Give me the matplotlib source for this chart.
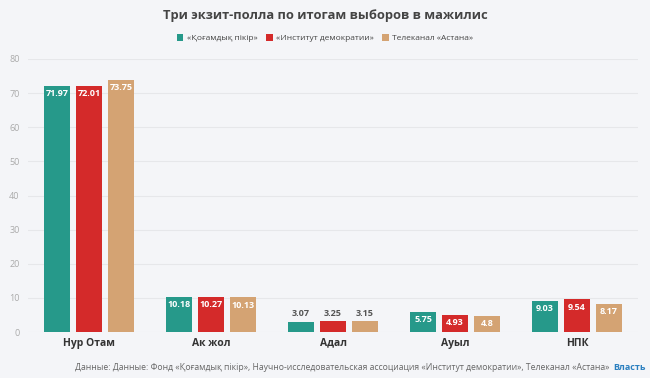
import numpy as np
import matplotlib.pyplot as plt
from matplotlib.patches import Patch

plt.rcParams['font.family'] = ['Open Sans', 'DejaVu Sans']

categories = ['Нур Отам', 'Ак жол', 'Адал', 'Ауыл', 'НПК']
series_names = ['«Қоғамдық пікір»', '«Институт демократии»', 'Телеканал «Астана»']
kogam = [71.97, 10.18, 3.07, 5.75, 9.03]
institut = [72.01, 10.27, 3.25, 4.93, 9.54]
astana = [73.75, 10.13, 3.15, 4.8, 8.17]
colors = ['#26998a', '#d42a2a', '#d4a373']

bg = '#f4f5f8'
fig = plt.figure(figsize=(6.5, 3.78), dpi=100, facecolor=bg)
ax = fig.add_axes([28 / 650, 1 - 332 / 378, 610 / 650, 273 / 378], facecolor=bg)

x = np.arange(len(categories))
w = 0.22
off = 0.262
for i, (vals, col) in enumerate(zip([kogam, institut, astana], colors)):
    pos = x + (i - 1) * off
    ax.bar(pos, vals, width=w, color=col, zorder=3)
    for p, v in zip(pos, vals):
        if v > 4:
            ax.text(p, v - 0.9, f'{v:g}', ha='center', va='top', color='white',
                    fontsize=6.5, fontweight='bold', zorder=4)
        else:
            ax.text(p, v + 0.9, f'{v:g}', ha='center', va='bottom', color='#555555',
                    fontsize=6.5, fontweight='bold', zorder=4)

ax.set_xlim(-0.5, len(categories) - 0.5)
ax.set_ylim(0, 80)
ax.set_yticks(np.arange(0, 81, 10))
ax.yaxis.grid(True, color='#e6e7ea', linewidth=0.8, zorder=0)
ax.set_xticks(x)
ax.set_xticklabels(categories, fontsize=7.5, fontweight='bold', color='#333333')
ax.tick_params(axis='y', labelsize=6.5, labelcolor='#aaaaaa', length=0, pad=6)
ax.tick_params(axis='x', length=0, pad=4)
for s in ax.spines.values():
    s.set_visible(False)

fig.text(0.5, 1 - 15 / 378, 'Три экзит-полла по итогам выборов в мажилис',
         ha='center', va='center', fontsize=9.3, fontweight='bold', color='#444444')

handles = [Patch(facecolor=c, edgecolor='none') for c in colors]
fig.legend(handles, series_names, loc='center', bbox_to_anchor=(0.5, 1 - 38 / 378),
           ncol=3, frameon=False, fontsize=6.0, handlelength=0.8, handleheight=0.9,
           handletextpad=0.4, columnspacing=1.0, labelcolor='#444444')

fig.text(75 / 650, 1 - 368 / 378,
         'Данные: Данные: Фонд «Қоғамдық пікір», Научно-исследовательская ассоциация «Институт демократии», Телеканал «Астана»',
         ha='left', va='center', fontsize=6.2, color='#666666')
fig.text(646 / 650, 1 - 367 / 378, 'Власть', ha='right', va='center',
         fontsize=6.5, fontweight='bold', color='#2a7fc0')

fig.savefig('out.png', dpi=100, facecolor=bg)
